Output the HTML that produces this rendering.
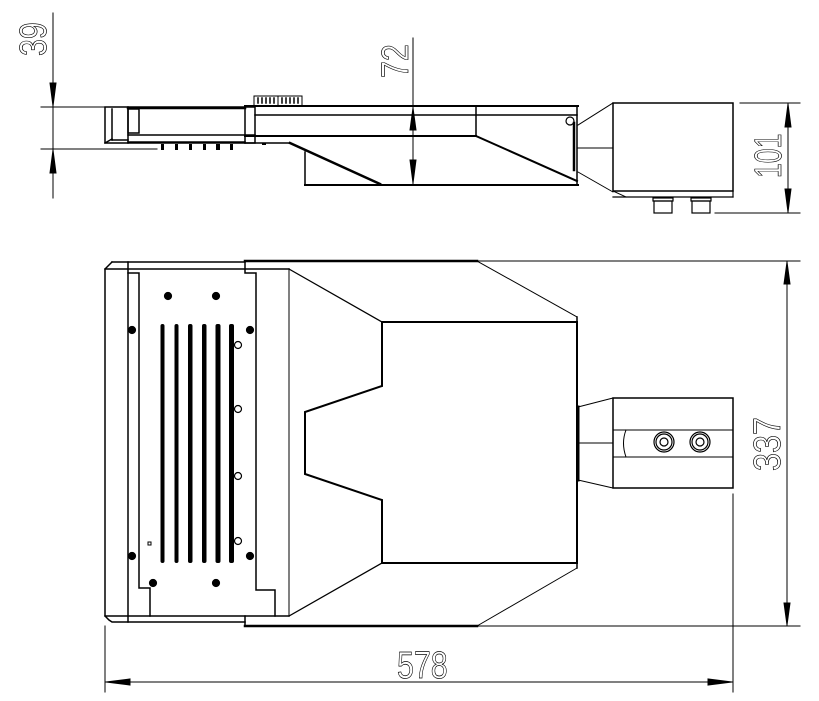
<!DOCTYPE html>
<html><head><meta charset="utf-8"><style>
html,body{margin:0;padding:0;background:#fff;width:819px;height:701px;overflow:hidden}
svg{display:block}
text{font-family:"Liberation Sans",sans-serif;fill:none;stroke:#000;stroke-width:0.7}
</style></head><body>
<svg width="819" height="701" viewBox="0 0 819 701" xmlns="http://www.w3.org/2000/svg" stroke="#000" fill="none" stroke-linecap="square">
<!-- ===== TOP (side) VIEW ===== -->
<line x1="53" y1="13" x2="53" y2="198" stroke-width="1"/>
<line x1="41" y1="107" x2="105" y2="107" stroke-width="1"/>
<line x1="41" y1="149" x2="157" y2="149" stroke-width="1"/>
<polygon points="50,83 56,83 53,106" fill="#000"/>
<polygon points="50,173 56,173 53,150" fill="#000"/>
<text transform="translate(46,56) rotate(-90) scale(0.8,1)" font-size="38">39</text>
<g stroke-width="1.5">
<rect x="105" y="107" width="150" height="36"/>
<line x1="112" y1="109" x2="112" y2="140"/>
<line x1="105" y1="143" x2="112" y2="139"/>
<line x1="112" y1="140" x2="128" y2="140"/>
<rect x="128" y="109" width="11" height="24"/>
<line x1="128" y1="107" x2="128" y2="143"/>
<line x1="128" y1="135" x2="255" y2="135"/>
<line x1="128" y1="108" x2="245" y2="108" stroke-width="2.5"/>
<line x1="128" y1="142" x2="245" y2="142"/>
</g>
<g fill="#000" stroke="none">
<rect x="161" y="144" width="3" height="6"/><rect x="175" y="144" width="3" height="6"/>
<rect x="189" y="144" width="3" height="6"/><rect x="203" y="144" width="3" height="6"/>
<rect x="216" y="144" width="4" height="6"/><rect x="230" y="144" width="3" height="6"/>
<rect x="262" y="143" width="4" height="2"/>
</g>
<rect x="254" y="96" width="48" height="10" stroke-width="1"/>
<line x1="278" y1="96" x2="278" y2="106" stroke-width="1"/>
<g stroke-width="1.5">
<line x1="258" y1="98" x2="258" y2="103"/><line x1="262" y1="98" x2="262" y2="103"/><line x1="266" y1="98" x2="266" y2="103"/><line x1="270" y1="98" x2="270" y2="103"/><line x1="274" y1="98" x2="274" y2="103"/>
<line x1="282" y1="98" x2="282" y2="103"/><line x1="286" y1="98" x2="286" y2="103"/><line x1="290" y1="98" x2="290" y2="103"/><line x1="294" y1="98" x2="294" y2="103"/><line x1="298" y1="98" x2="298" y2="103"/>
</g>
<g stroke-width="1.5">
<line x1="245" y1="106" x2="578" y2="106" stroke-width="2"/>
<line x1="255" y1="115" x2="577" y2="115"/>
<line x1="245" y1="136" x2="476" y2="136" stroke-width="2"/>
<line x1="245" y1="106" x2="245" y2="143"/>
<line x1="245" y1="143" x2="290" y2="143"/>
<line x1="290" y1="143" x2="380" y2="184" stroke-width="2.5"/>
<line x1="305" y1="152" x2="305" y2="185"/>
<line x1="305" y1="185" x2="578" y2="185" stroke-width="2"/>
<line x1="476" y1="107" x2="476" y2="136"/>
<line x1="476" y1="136" x2="577" y2="181" stroke-width="2"/>
<line x1="577" y1="106" x2="577" y2="184"/>
<line x1="574" y1="123" x2="574" y2="170" stroke-width="2.5"/>
</g>
<circle cx="570" cy="121" r="4" stroke-width="1.2"/>
<line x1="413" y1="38" x2="413" y2="185" stroke-width="1"/>
<polygon points="410,130 416,130 413,108" fill="#000"/>
<polygon points="410,160 416,160 413,183" fill="#000"/>
<text transform="translate(408,78) rotate(-90) scale(0.8,1)" font-size="38">72</text>
<g stroke-width="1">
<line x1="578" y1="125" x2="613" y2="103"/>
<line x1="578" y1="172" x2="613" y2="192"/>
<line x1="578" y1="148" x2="613" y2="148"/>
<line x1="613" y1="191" x2="626" y2="197"/>
</g>
<rect x="613" y="103" width="120" height="88" stroke-width="1.5"/>
<line x1="613" y1="197" x2="733" y2="197" stroke-width="1.2"/>
<line x1="733" y1="191" x2="733" y2="197" stroke-width="1.2"/>
<g stroke-width="1.2">
<rect x="654" y="201" width="18" height="12"/><rect x="653" y="198" width="20" height="3"/>
<rect x="692" y="201" width="18" height="12"/><rect x="691" y="198" width="20" height="3"/>
</g>
<line x1="740" y1="103" x2="800" y2="103" stroke-width="1"/>
<line x1="715" y1="213" x2="800" y2="213" stroke-width="1"/>
<line x1="788" y1="103" x2="788" y2="213" stroke-width="1"/>
<polygon points="785,127 791,127 788,104" fill="#000"/>
<polygon points="785,189 791,189 788,212" fill="#000"/>
<text transform="translate(781,178) rotate(-90) scale(0.7,1)" font-size="38">101</text>

<!-- ===== BOTTOM (plan) VIEW ===== -->
<g stroke-width="1.5">
<polyline points="112,262 245,262"/>
<polyline points="112,262 108,266 105,269 105,616 109,620 112,622 245,622"/>
<line x1="105" y1="269" x2="289" y2="269"/>
<line x1="105" y1="616" x2="289" y2="616"/>
<line x1="128" y1="262" x2="128" y2="622"/>
<polyline points="128,273 139,273 139,588 150,588 150,616"/>
<polyline points="245,262 245,273 256,273 256,590 275,590 275,616"/>
<line x1="245" y1="616" x2="245" y2="626"/>
<line x1="245" y1="261" x2="477" y2="261" stroke-width="2.5"/>
<line x1="245" y1="626" x2="477" y2="626" stroke-width="2.5"/>
<line x1="289" y1="269" x2="289" y2="616" stroke-width="1"/>
<line x1="289" y1="269" x2="382" y2="322" stroke-width="1.2"/>
<line x1="289" y1="616" x2="382" y2="563" stroke-width="1.2"/>
<polyline points="382,322 577,322 577,563 382,563 382,500 305,474 305,412 382,386 382,322" stroke-width="2"/>
<line x1="477" y1="261" x2="577" y2="317" stroke-width="1"/>
<line x1="477" y1="626" x2="577" y2="568" stroke-width="1"/>
<line x1="577" y1="317" x2="577" y2="568" stroke-width="1.5"/>
<line x1="578" y1="407" x2="578" y2="480" stroke-width="3"/>
</g>
<g fill="#000" stroke="none">
<rect x="160.5" y="324" width="4" height="239" rx="2"/>
<rect x="174.5" y="324" width="4" height="239" rx="2"/>
<rect x="188" y="324" width="4.5" height="239" rx="2"/>
<rect x="202" y="324" width="4.5" height="239" rx="2"/>
<rect x="215.5" y="324" width="5" height="239" rx="2"/>
<rect x="229" y="324" width="5" height="239" rx="2"/>
</g>
<g stroke-width="1.2">
<circle cx="168" cy="296" r="3.5" fill="#000"/><circle cx="216" cy="296" r="3.5" fill="#000"/>
<circle cx="132" cy="330" r="3.5" fill="#000"/><circle cx="250" cy="330" r="3.5" fill="#000"/>
<circle cx="238" cy="345" r="3.5"/><circle cx="238" cy="409" r="3.5"/>
<circle cx="238" cy="476" r="3.5"/><circle cx="238" cy="541" r="3.5"/>
<circle cx="132" cy="556" r="3.5" fill="#000"/><circle cx="250" cy="556" r="3.5" fill="#000"/>
<circle cx="153" cy="583" r="3.5" fill="#000"/><circle cx="216" cy="583" r="3.5" fill="#000"/>
<rect x="148" y="542" width="3" height="3" stroke-width="1"/>
</g>
<g stroke-width="1">
<line x1="578" y1="407" x2="613" y2="398"/>
<line x1="578" y1="480" x2="613" y2="488"/>
<line x1="578" y1="443" x2="613" y2="443"/>
<line x1="613" y1="430" x2="733" y2="430"/>
<line x1="613" y1="457" x2="733" y2="457"/>
<path d="M626,430 Q621,443 626,457"/>
</g>
<rect x="613" y="398" width="120" height="90" stroke-width="1.5"/>
<g stroke-width="1.2">
<circle cx="664" cy="442" r="10"/><circle cx="664" cy="442" r="8"/><circle cx="664" cy="442" r="4"/>
<circle cx="700" cy="442" r="10"/><circle cx="700" cy="442" r="8"/><circle cx="700" cy="442" r="4"/>
</g>
<line x1="477" y1="261" x2="800" y2="261" stroke-width="1"/>
<line x1="477" y1="626" x2="800" y2="626" stroke-width="1"/>
<line x1="787" y1="261" x2="787" y2="626" stroke-width="1"/>
<polygon points="784,284 790,284 787,262" fill="#000"/>
<polygon points="784,603 790,603 787,625" fill="#000"/>
<text transform="translate(780,471) rotate(-90) scale(0.85,1)" font-size="38">337</text>
<line x1="105" y1="626" x2="105" y2="692" stroke-width="1"/>
<line x1="733" y1="494" x2="733" y2="692" stroke-width="1"/>
<line x1="105" y1="682" x2="733" y2="682" stroke-width="1"/>
<polygon points="106,682 130,679 130,685" fill="#000"/>
<polygon points="732,682 708,679 708,685" fill="#000"/>
<text transform="translate(397,678) scale(0.8,1)" font-size="38">578</text>
</svg>
</body></html>
